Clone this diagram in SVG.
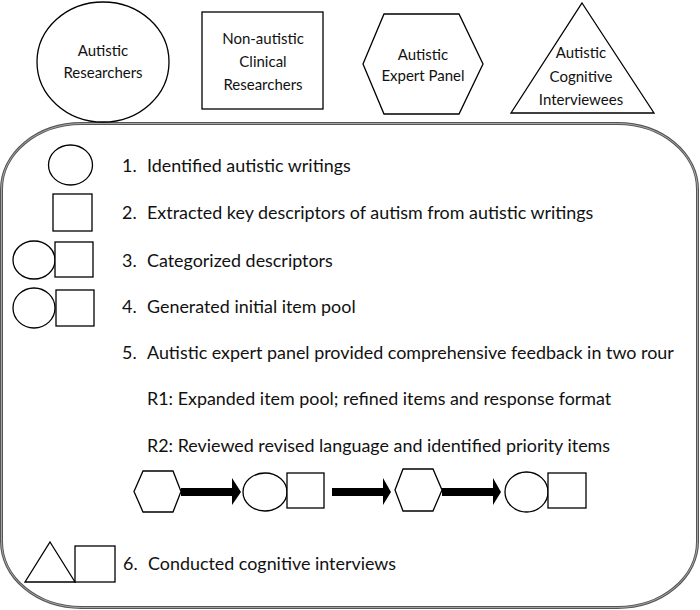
<svg xmlns="http://www.w3.org/2000/svg" width="700" height="610" viewBox="0 0 700 610">
<style>
.sh{fill:#fff;stroke:#000;stroke-width:1.3}
.lbl{font-family:"Lato","Liberation Sans",sans-serif;font-size:15px;fill:#111;text-anchor:middle}
.txt{font-family:"Lato","Liberation Sans",sans-serif;font-size:17.9px;fill:#111}
.arr{fill:#000}
</style>
<rect width="700" height="610" fill="#fff"/>
<g id="frame">
<rect x="1.5" y="123.5" width="696" height="484" rx="80" ry="66" fill="none" stroke="#555" stroke-width="3"/>
<rect x="1.5" y="123.5" width="696" height="484" rx="80" ry="66" fill="none" stroke="#bbb" stroke-width="0.8"/>
</g>
<g id="legend-autistic-researchers">
<ellipse class="sh" cx="103" cy="62" rx="66" ry="60"/>
<text class="lbl" x="103" y="56">Autistic</text>
<text class="lbl" x="103" y="78">Researchers</text>
</g>
<g id="legend-nonautistic">
<rect class="sh" x="202" y="12" width="121" height="97"/>
<text class="lbl" x="263" y="44">Non-autistic</text>
<text class="lbl" x="263" y="67">Clinical</text>
<text class="lbl" x="263" y="90">Researchers</text>
</g>
<g id="legend-expert-panel">
<polygon class="sh" points="363,64 384,14 459,14 483,64 459,114 384,114"/>
<text class="lbl" x="423" y="60">Autistic</text>
<text class="lbl" x="423" y="81">Expert Panel</text>
</g>
<g id="legend-interviewees">
<polygon class="sh" points="582,3 654,113 511,113"/>
<text class="lbl" x="581" y="58">Autistic</text>
<text class="lbl" x="581" y="82">Cognitive</text>
<text class="lbl" x="581" y="105">Interviewees</text>
</g>
<g id="step1">
<ellipse class="sh" cx="70.5" cy="165" rx="22" ry="20"/>
<text class="txt" x="122" y="172">1.</text>
<text class="txt" x="147" y="172">Identified autistic writings</text>
</g>
<g id="step2">
<rect class="sh" x="53" y="194" width="39" height="37"/>
<text class="txt" x="122" y="219">2.</text>
<text class="txt" x="147" y="219">Extracted key descriptors of autism from autistic writings</text>
</g>
<g id="step3">
<ellipse class="sh" cx="34" cy="260" rx="21" ry="19"/>
<rect class="sh" x="55" y="242" width="38" height="35"/>
<text class="txt" x="122" y="267">3.</text>
<text class="txt" x="147" y="267">Categorized descriptors</text>
</g>
<g id="step4">
<ellipse class="sh" cx="34" cy="308" rx="21" ry="20"/>
<rect class="sh" x="56" y="290" width="38" height="36"/>
<text class="txt" x="122" y="313">4.</text>
<text class="txt" x="147" y="313">Generated initial item pool</text>
</g>
<g id="step5">
<text class="txt" x="122" y="359">5.</text>
<text class="txt" x="147" y="359">Autistic expert panel provided comprehensive feedback in two rour</text>
<text class="txt" x="147" y="405">R1: Expanded item pool; refined items and response format</text>
<text class="txt" x="147" y="452">R2: Reviewed revised language and identified priority items</text>
</g>
<g id="flow-hex1"><polygon class="sh" points="134,491.5 143,471 173,471 181,491.5 173,512 143,512"/></g>
<g id="flow-pair1">
<ellipse class="sh" cx="265" cy="492" rx="22" ry="19"/>
<rect class="sh" x="287" y="473" width="37" height="35"/>
</g>
<g id="flow-hex2"><polygon class="sh" points="395,490 403,469 433,469 442,490 433,511 403,511"/></g>
<g id="flow-pair2">
<ellipse class="sh" cx="526.5" cy="492" rx="21.5" ry="20"/>
<rect class="sh" x="548" y="473" width="38" height="35"/>
</g>
<g id="step6">
<polygon class="sh" points="50,542 75,582 25,582"/>
<rect class="sh" x="75" y="546" width="40" height="36"/>
<text class="txt" x="123" y="570">6.</text>
<text class="txt" x="148" y="570">Conducted cognitive interviews</text>
</g>
<g id="connectors">
<polygon class="arr" points="181,488 232,488 232,478 241,492 232,505 232,496 181,496"/>
<polygon class="arr" points="332,488 383,488 383,478 391,492 383,505 383,496 332,496"/>
<polygon class="arr" points="442,488 493,488 493,478 501,492 493,505 493,496 442,496"/>
</g>
</svg>
